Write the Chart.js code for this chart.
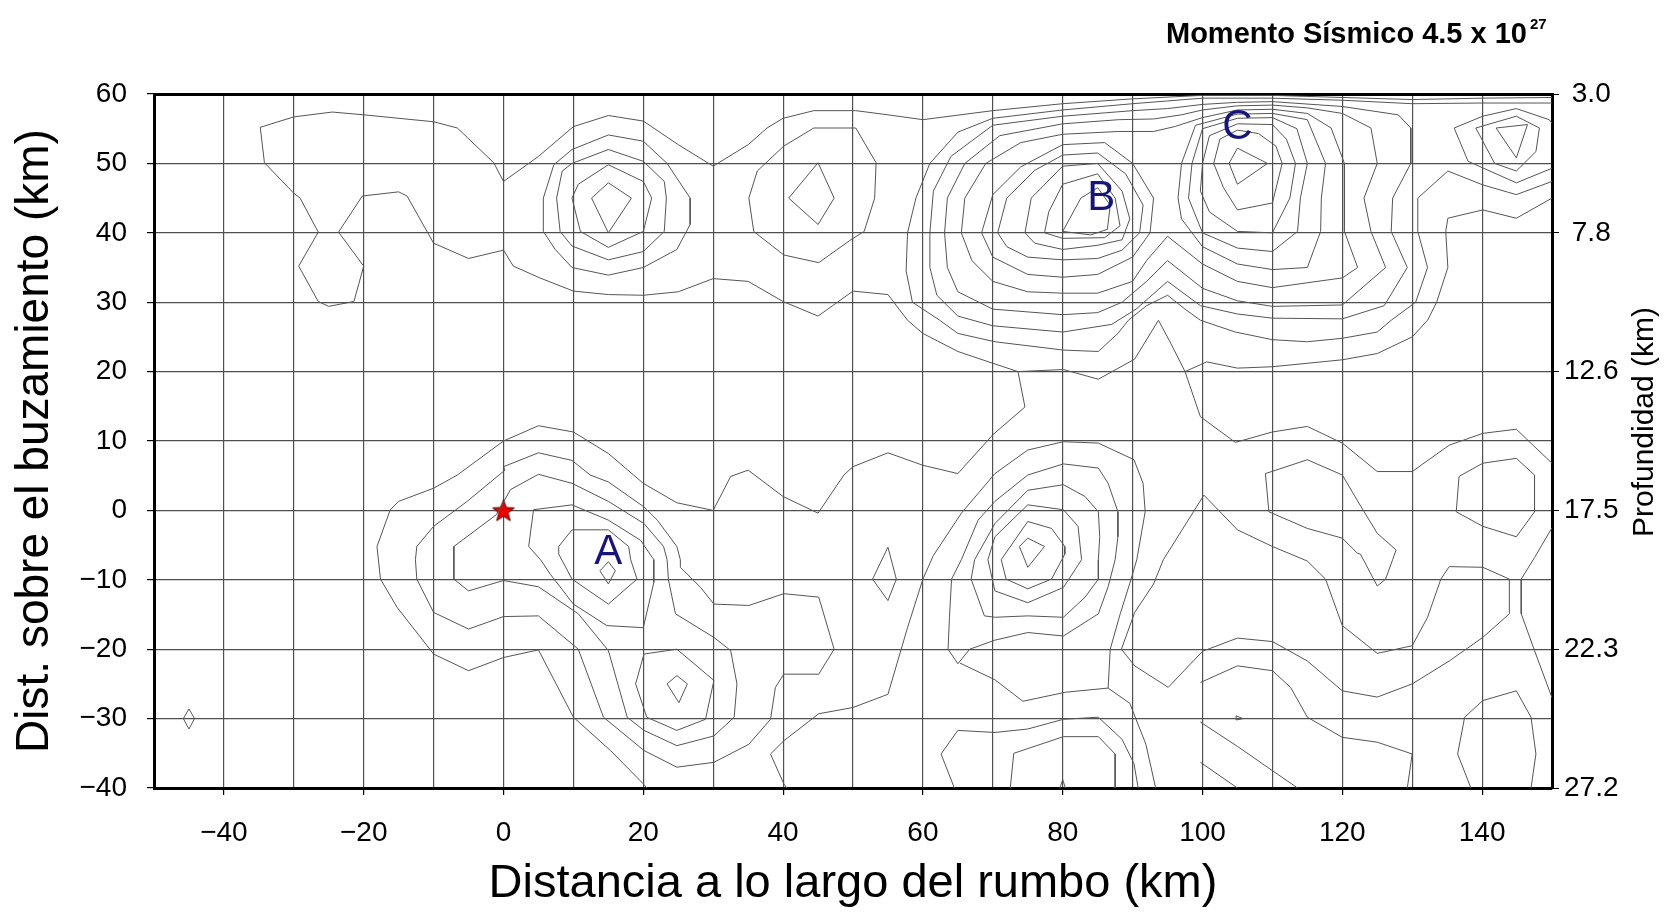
<!DOCTYPE html>
<html><head><meta charset="utf-8">
<script src="https://cdn.jsdelivr.net/npm/chart.js@4.4.1/dist/chart.umd.min.js"></script>
<style>html,body{margin:0;padding:0;background:#fff}#wrap{width:1666px;height:912px}</style>
</head><body><div id="wrap"><canvas id="c" width="1666" height="912"></canvas></div>
<script>
// Slip contours on the fault plane, each polyline given as flat [x, y, x, y, ...] pairs (km)
const contoursWest = [
  [20.5,-40, 20,-39.4, 15.3,-34.6, 10,-29.8, 5,-20.1, 0,-21.2, -5,-23.1, -10,-20.7, -15.2,-14, -17.6,-9.9, -18.1,-5.2, -16.2,0.1, -15,1.3, -10,3.2, -6.6,5.1, 0,10, 5,12.2, 10,11.3, 15,8.2, 20,3.9, 24.8,1.1, 30,0, 32.5,4.9, 35,5.8, 40,2, 45,-0.4, 48.7,5.1, 50,6.3, 55,8.3, 60,6.5, 65,5.3, 70,10.9, 74.6,14.9, 73.6,20, 70,21.2, 65,22.9, 60,25.5, 57.8,27.4, 55,31.1, 50,31.6, 45,28, 40,30.1, 35,33, 30,33.4, 25,31.5, 20,31, 15,31.1, 10,31.6, 5.2,33.5, 1.4,35.2, 0,37.5, -5,36.3, -10,38.5, -13.8,45.3, -15,45.9, -20.2,45.3, -23.6,40.1, -20,35.2, -21.4,30.1, -25,29.4, -26.5,30.1, -29.3,35.2, -26.5,40.1, -29.1,45, -30,45.7, -34.2,50.1, -34.8,55.2, -30,56.7, -24.5,57.4, -20,57, -10,56, -6.6,55.1, -1.4,50.1, 0,47.4, 5,51, 10,55.3, 15,56.9, 20,56.1, 25,52.7, 30,49.6, 35,52.7, 37.7,55.1, 40,56.5, 44.4,57.6, 50.4,57.6, 55,57, 60,56.3, 70,57.6, 80,58.6, 90,59.3, 100,59.8, 110,59.8, 120,59.5, 130,59.2, 140,59.4, 150,59.5],
  [5.7,40.2, 5.7,45, 7.2,49.8, 9.8,52, 15,54.1, 20,53.2, 23.4,50, 26.7,45, 26.7,41.2, 24.8,37.6, 20,35, 15,33.9, 9.8,35, 7.4,37.6, 5.7,40.2],
  [7.6,45, 8.4,48.9, 9.8,50, 15,52, 20,50.3, 23,47.4, 23.3,45, 23,40.2, 20,37.3, 15,36.1, 9.8,38.1, 8.1,40.2, 7.6,45],
  [9.8,45, 10.7,47, 15,49.8, 20,47.4, 21.2,45, 20,40.2, 15,37.9, 11,40.2, 9.8,45],
  [12.6,45, 15,47.2, 18.3,45, 15,40, 12.6,45],
  [35.1,45, 36.3,48.9, 40.1,52.5, 44.4,55.1, 50.4,55.1, 53.3,50.1, 53.1,45, 51.6,40.2, 49.7,39, 45.1,35.7, 40.1,36.8, 35.8,40.2, 35.1,45],
  [40.8,45, 45,50.1, 47.3,45, 45,41.2, 40.8,45],
  [-45,-28.6, -44.2,-30, -45,-31.5, -45.8,-30, -45,-28.6],
  [0.2,5.8, -5.2,1.3, -10,-2.3, -12.4,-5.2, -12.6,-7.1, -12.4,-9.9, -10,-14.7, -5,-17.1, 0,-15.3, 5,-15.2, 10.7,-20, 14.3,-29.8, 20.1,-34.6, 24.8,-37, 30.1,-36.3, 35.1,-33.7, 38.2,-30.1, 38.9,-25.5, 40.1,-23.6, 45.1,-23.6, 47.3,-20, 45.1,-12.5, 40.1,-12, 35.1,-13.7, 30.1,-13.5, 28.2,-11.1, 25.3,-8.2, 25.3,-7.1, 24.8,-5.2, 22,-1.4, 20.1,0.5, 15,4.1, 12.4,5.1, 9.8,7.2, 5,8.3, 0,6.3, 0.2,5.8],
  [-7.1,-6.3, -7.1,-9.9, -5,-11.6, 0,-10.1, 5,-11, 10.7,-14.9, 15,-20.2, 17.7,-29.8, 20.1,-31.7, 24.8,-33.9, 30.1,-32.5, 33,-29.8, 33.4,-25, 32.5,-20.2, 30.1,-18.3, 24.6,-14.9, 23.6,-10, 23.4,-7.1, 22.9,-5.2, 20.1,-1.9, 15,1.3, 9.8,3.9, 5,5.2, 1,3, -1,-0.6, -7.1,-5.2, -7.1,-6.3],
  [4.3,0.1, 9.8,0.8, 15,-1.4, 19.6,-4.3, 21.5,-7.1, 21.5,-10.4, 20,-16.9, 14.8,-16.6, 10,-13.5, 6.7,-9.2, 5.3,-7.1, 3.6,-5.2, 4.3,0.1],
  [7.9,-5.2, 9.8,-2.8, 15,-2.8, 17.9,-5.2, 18.2,-7.1, 19.1,-9.9, 15,-13.5, 9.8,-9.9, 7.9,-6.3, 7.9,-5.2],
  [13.8,-8.7, 15,-7.4, 16,-8.7, 15,-10.6, 13.8,-8.7],
  [20.1,-20.7, 24.8,-20, 30.1,-24.5, 28.9,-30.1, 24.8,-31.7, 20.5,-29.8, 18.9,-25, 20.1,-20.7],
  [23.4,-25, 24.8,-23.8, 26.3,-25, 25.1,-27.7, 23.4,-25]
];
const contoursNorthEast = [
  // rings around B only
  [80,40.2, 82.6,45, 85,46.5, 86.8,44, 86.4,40.5, 84,39.7, 80,40.2],
  [77.4,40, 78,43, 80,47, 85,48.5, 87.5,45, 88.2,41, 86,39.3, 80,39.2, 77.4,40],
  [74.6,40, 75.5,45, 80,49.6, 85,50, 88.5,46, 89.6,42, 88.5,39, 85,38.2, 80,37.6, 76,38.5, 74.6,40],
  [70.7,40, 72,45, 76,49, 80,51.2, 85,51.5, 89,48.5, 91.5,44, 91,40, 88.5,37.5, 85,36.3, 80,36.1, 75,36.5, 72,38, 70.7,40],
  [68.4,40, 70,45.5, 74,49.5, 80,52.7, 86,53, 90,50, 93,45, 92.5,40, 90,36.5, 85,34, 80,33.6, 75,34, 70,36.5, 68.4,40],
  // rings around C only
  [103.8,50, 105,52.2, 109.3,50, 105,47, 103.8,50],
  [101.6,50, 102.5,53.5, 105,54.8, 108,54.3, 110.5,52.5, 111.4,50, 110,44.3, 105,43.3, 103,46.5, 101.6,50],
  [99.7,46, 100,50, 101,54, 105,55.7, 110,55.6, 112,53.5, 113.3,50, 112.5,45, 110,40, 105,40.2, 101,43, 99.7,46],
  [98,45, 98.5,50, 100,55, 105,56.5, 110,56.6, 113.5,55, 115,50, 114,45, 113.6,40.2, 110,37.3, 105,37.8, 100,40, 98,45],
  [96.5,45, 97,50, 99,55.5, 105,57.1, 110,57.2, 115,56.3, 117.6,50, 117,45, 116.9,40.2, 115,35, 110,34.7, 105,35.5, 100,38, 97,42, 96.5,45],
  // rings enclosing both B and C
  [65.5,40, 66,45, 69,50, 74,53, 80,54.2, 88,54.6, 93,54.6, 96,55.3, 100,56.6, 105,57.7, 110,57.8, 115,57.2, 118.4,55.1, 120.3,50, 120.3,40.2, 122.2,35, 120,33.5, 110,32.1, 105,33, 100,35.5, 95,39.5, 92,36, 90,33, 85,31.3, 80,31.3, 75,31.5, 70,33, 67,36, 65.5,40],
  [63.1,40, 63.5,45, 66,50, 71,54, 80,55.7, 88,56.3, 93,56.4, 97,57, 100,57.7, 105,58.3, 110,58.4, 115,58, 120,57.2, 124.1,55.1, 125,50, 123.1,45, 124.1,40.2, 126.2,35, 120,29.6, 110,29.4, 105,30.2, 100,32, 95,36, 92,33, 88.5,30, 85,28.5, 80,28.2, 70,29, 65,31.5, 63.5,35, 63.1,40],
  [61,40, 61.5,46, 64,51, 70,55.5, 80,56.8, 90,57.6, 95,57.9, 100,58.5, 105,58.8, 110,58.9, 120,58.2, 128,57, 129.8,55.1, 129.8,50, 127.2,45, 127,40.2, 129.3,35, 126,29.5, 120,27.6, 110,27.7, 105,28.3, 99.7,29.5, 95,33, 90.5,29, 87,26.8, 80,25.7, 70,26.6, 65,28, 62,31, 61,35, 61,40],
  [150,58.7, 140,58.7, 130,58.6, 120,59.1, 110,59.4, 100,59.4, 95,59, 90,58.6, 80,57.7, 70,56.5, 65,54.5, 61,50, 59,45, 57.8,40, 57.6,34.5, 58.5,30, 62.4,27.4, 65,25.5, 70.3,24.3, 80.1,23.1, 85.1,22.9, 87.9,25.5, 89.4,27.4, 92,29.5, 95,31, 97.5,29, 99.7,27.4, 104.7,25.7, 110,24.6, 115,24.3, 120,24.8, 125,25.7, 127,27.4, 130.5,30, 132.2,35, 130.8,40.2, 130.8,45, 135.1,48.9, 140.1,46.9, 144.9,45.5, 150,47.4],
  // lowest level below B and C
  [73.6,20, 80.1,20.3, 85.1,18.9, 90.3,21.8, 93.7,27.4, 95.5,24, 97.5,20, 99.7,13.5, 104.7,9.8, 110,11.3, 115,12.1, 120,9.7, 125,5.6, 130,5.6, 135.3,9.4, 140.1,11.1, 144.9,11.7, 148,8.7, 150,6.8],
  [97.5,20, 100.6,21.4, 105,20.5, 110,20.7, 120,21.7, 125,22.6, 130,25, 132.2,27.4, 133.5,30, 135.1,35, 134.8,40.2, 135.1,42.1, 140.1,43.3, 144.9,42.1, 150,45],
  // small high near the north-east corner
  [142,55.1, 146.5,55.6, 144.9,50.8, 142,55.1],
  [139.1,55.1, 144.9,56.8, 148.2,55.1, 147.7,51.7, 144.9,48.9, 141.8,50, 139.1,55.1],
  [150,49.3, 144.9,47.2, 138,50.3, 136,55.1, 140.1,56.8, 144.9,57.9, 149.6,56.3, 150,55.8]
];
const contoursSouthEast = [
  [136.7,4.9, 140.1,6.8, 144.9,7.5, 147.5,5.1, 147.5,-0.2, 144.9,-3.8, 140.1,-2.3, 136.3,-0.2, 136.7,4.9],
  [109,5.3, 115,7.3, 120,5.1, 122.7,0.5, 125,-3.3, 127.7,-5.7, 127.2,-7.1, 126.2,-9.9, 125,-10.9, 122.6,-6.3, 122.2,-6.2, 120,-4, 115,-2.6, 109.5,-0.2, 109,5.3],
  [100,-20.3, 105,-18.4, 110,-18.9, 115,-21.7, 120,-26, 125,-26.9, 130,-25, 135.3,-21.7, 140.1,-18.3, 143.9,-14.9, 143.9,-9.9, 140.1,-8.2, 135.3,-8.1, 134.1,-9.9, 132.2,-15.4, 130,-19.5, 125,-20.6, 120,-16.6, 117.6,-9.9, 115,-7.3, 110,-5.2, 105,-2.8, 100.2,2.2, 94.4,-7.1, 93,-10.6, 90.3,-14.7, 88.4,-20, 90.3,-22.4, 95.1,-25.5, 100,-20.3],
  [150,-2.5, 147.5,-6.8, 145.6,-9.9, 145.6,-14.9, 147.5,-20.2, 150,-27],
  [99.7,-24.8, 105,-22.4, 110,-23.1, 112.6,-25.5, 115,-29.8, 120,-32.7, 125,-33.4, 130,-35.1, 129.3,-40],
  [99.7,-30.5, 105,-34, 110,-37.5, 113.6,-40],
  [99.7,-36.3, 105,-40],
  [138.4,-40, 136.5,-35.1, 137.5,-29.8, 140.1,-27.4, 144.9,-26, 147,-29.8, 147.7,-35.1, 147,-40],
  [104.8,-29.6, 105.8,-30, 104.8,-30.2, 104.8,-29.6]
];
const contoursCentre = [
  [55,-5.3, 56.2,-9.9, 55,-13, 52.8,-9.9, 55,-5.3],
  [40.5,-40, 40.1,-39.4, 38.2,-35.1, 40.1,-33.2, 45.1,-29.3, 50,-28.4, 55,-26.5, 57.8,-16.9, 60,-9.9, 61.5,-6.5, 65.5,-0.4, 70.3,5.3, 75,8.7, 80.1,9.9, 85.1,9.7, 90.2,7.3, 91.5,3.9, 91.8,-0.2, 90.6,-7.1, 89.6,-10.5, 88.2,-15, 86.8,-20, 86.5,-25.6],
  [65.3,-22, 70.3,-24.4, 74.3,-27.5, 80.4,-26.2, 86.5,-25.6, 89.6,-27.8, 91.9,-33.7, 93.3,-40],
  [65.5,-7.1, 67.9,-1.4, 70.3,1.3, 75,5.1, 80.1,6.7, 85.1,6.1, 86.5,3.9, 87.9,-0.2, 87.9,-3.8, 87.5,-7.1, 86.5,-11, 85.1,-14.9, 80.1,-18.1, 75,-17.6, 70.3,-18.7, 66.7,-20, 65,-22.1, 63.6,-20, 63.8,-15.4, 64.1,-9.9, 65.5,-7.1],
  [67.4,-7.1, 70.3,-1.9, 75,2.9, 80.1,3.7, 83.2,2, 85.1,-0.2, 85.3,-3.8, 85.1,-7.1, 85.1,-9.9, 83.2,-12.5, 80.1,-15.4, 75,-15.2, 70.3,-15.4, 68.8,-15.2, 66.9,-9.9, 67.4,-7.1],
  [69.3,-7.1, 70.3,-3.8, 75,0.8, 80.1,0.1, 82.2,-2.3, 82.7,-7.1, 80.1,-11.1, 75,-13.3, 70.3,-11.6, 69.3,-7.1],
  [71.2,-7.1, 75,-1.6, 78.4,-2.6, 80.3,-5.2, 80.3,-6.3, 78.4,-9.9, 75,-11.3, 71.9,-9.9, 71.2,-7.1],
  [73.8,-5.2, 75,-4, 77.4,-5.2, 75,-8.2, 73.8,-5.2],
  [64.5,-40, 62.6,-35.1, 65,-31.7, 70.3,-32, 75,-31.5, 80.1,-30.1, 85.1,-29.8, 88.5,-33, 90.2,-36.5, 90.8,-40],
  [72.5,-40, 73,-35, 80.1,-32.6, 85.1,-32.6, 87.5,-35.1, 87.5,-40],
  [79.6,-40, 80,-38.8, 80.4,-40]
];
const strikeTicksLabelled = [-40, -20, 0, 20, 40, 60, 80, 100, 120, 140];
const depthTickDip = [60, 40, 20, 0, -20, -40];
const depthTickLabels = ['3.0', '7.8', '12.6', '17.5', '22.3', '27.2'];
const hypocentre = [{x: 0, y: 0}];
const asperityNames = ['A', 'B', 'C'];
const asperityX = [15, 85.5, 105];
const asperityY = [-6, 45, 55.2];

const FONT = '"Liberation Sans", Arial, Helvetica, sans-serif';
const fmt = v => (v < 0 ? '\u2212' + Math.abs(v) : String(v));

function toPoints(flat) {
  const pts = [];
  for (let i = 0; i < flat.length; i += 2) pts.push({x: flat[i], y: flat[i + 1]});
  return pts;
}

function starCanvas(size) {
  const c = document.createElement('canvas');
  c.width = c.height = size;
  const g = c.getContext('2d');
  const cx = size / 2, cy = size / 2 + 1, r = size / 2 - 1.5, r2 = r * 0.42;
  g.beginPath();
  for (let i = 0; i < 10; i++) {
    const a = -Math.PI / 2 + i * Math.PI / 5, rr = i % 2 ? r2 : r;
    g.lineTo(cx + rr * Math.cos(a), cy + rr * Math.sin(a));
  }
  g.closePath();
  g.fillStyle = '#ee0000'; g.fill();
  g.lineWidth = 1; g.strokeStyle = '#5a0000'; g.stroke();
  return c;
}

const lineSets = [...contoursWest, ...contoursNorthEast, ...contoursSouthEast, ...contoursCentre].map(flat => ({
  data: toPoints(flat), showLine: true, borderColor: '#555555', borderWidth: 1,
  pointRadius: 0, fill: false, tension: 0
}));

const overlay = {
  id: 'overlay',
  afterDatasetsDraw(chart) {
    const {ctx, scales: {x, y}} = chart;
    ctx.save();
    ctx.font = `42px ${FONT}`;
    ctx.fillStyle = '#16167a';
    ctx.textAlign = 'center'; ctx.textBaseline = 'middle';
    asperityNames.forEach((t, i) => ctx.fillText(t, x.getPixelForValue(asperityX[i]), y.getPixelForValue(asperityY[i])));
    ctx.restore();
  },
  afterDraw(chart) {
    const {ctx} = chart;
    ctx.save();
    ctx.fillStyle = '#000';
    ctx.font = `bold 29px ${FONT}`;
    ctx.textAlign = 'right'; ctx.textBaseline = 'alphabetic';
    ctx.fillText('Momento Sísmico 4.5 x 10', 1527, 43);
    ctx.font = `bold 15px ${FONT}`;
    ctx.textAlign = 'left';
    ctx.fillText('27', 1530, 29);
    ctx.translate(1645, 422);
    ctx.rotate(-Math.PI / 2);
    ctx.font = `30px ${FONT}`;
    ctx.textAlign = 'center'; ctx.textBaseline = 'middle';
    ctx.fillText('Profundidad (km)', 0, 0);
    ctx.restore();
  }
};

new Chart(document.getElementById('c'), {
  type: 'scatter',
  data: {
    datasets: [
      ...lineSets,
      {data: hypocentre, pointStyle: starCanvas(26), pointRadius: 13, showLine: false}
    ]
  },
  options: {
    responsive: false, animation: false, devicePixelRatio: 1,
    layout: {padding: 0},
    plugins: {legend: {display: false}, tooltip: {enabled: false}},
    scales: {
      x: {
        type: 'linear', position: 'bottom', min: -50, max: 150,
        ticks: {stepSize: 10, autoSkip: false, maxRotation: 0, color: '#000', padding: 21,
          font: {family: FONT, size: 28},
          callback: v => strikeTicksLabelled.includes(v) ? fmt(v) : ''},
        grid: {color: '#4f4f4f', lineWidth: 1.2, tickLength: 7,
          tickColor: c => (c.tick && strikeTicksLabelled.includes(c.tick.value)) ? '#000' : 'rgba(0,0,0,0)'},
        border: {color: '#000', width: 3},
        title: {display: true, text: 'Distancia a lo largo del rumbo (km)', color: '#000',
          font: {family: FONT, size: 47}, padding: {top: 0, bottom: 0}},
        afterFit: s => { s.height = 124; }
      },
      xTop: {
        type: 'linear', position: 'top', min: -50, max: 150,
        ticks: {display: false}, grid: {display: false},
        border: {color: '#000', width: 3},
        afterFit: s => { s.height = 94; }
      },
      y: {
        type: 'linear', position: 'left', min: -40, max: 60,
        ticks: {stepSize: 10, color: '#000', padding: 20, font: {family: FONT, size: 28}, callback: v => fmt(v)},
        grid: {color: '#4f4f4f', lineWidth: 1.2, tickLength: 7, tickColor: '#000'},
        border: {color: '#000', width: 3},
        title: {display: true, text: 'Dist. sobre el buzamiento (km)', color: '#000',
          font: {family: FONT, size: 46}, padding: {top: 8, bottom: 0}},
        afterFit: s => { s.width = 154; }
      },
      yRight: {
        type: 'linear', position: 'right', min: -40, max: 60,
        ticks: {stepSize: 20, color: '#000', padding: 5, crossAlign: 'center', font: {family: FONT, size: 28},
          callback: v => depthTickLabels[depthTickDip.indexOf(v)]},
        grid: {drawOnChartArea: false, tickLength: 7, tickColor: '#000'},
        border: {color: '#000', width: 3},
        afterFit: s => { s.width = 114; }
      }
    }
  },
  plugins: [overlay]
});
</script>
</body></html>
